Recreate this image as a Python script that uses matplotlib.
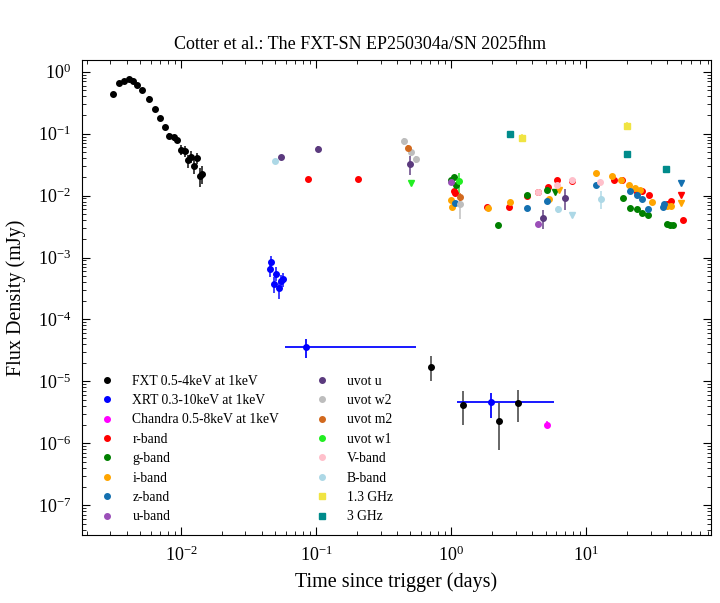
import matplotlib
matplotlib.use('Agg')
import matplotlib.pyplot as plt
from matplotlib.lines import Line2D
import numpy as np

plt.rcParams['font.family'] = ['Liberation Serif', 'DejaVu Serif']
plt.rcParams['mathtext.fontset'] = 'stix'

# ---------------- data (days, mJy) ----------------
fxt_t = [0.00315, 0.00347, 0.00376, 0.0041, 0.00439, 0.00472, 0.00514, 0.00577, 0.00638, 0.00699,
         0.0076, 0.00818, 0.00883, 0.0094, 0.0100, 0.01064, 0.0112, 0.01186, 0.0125, 0.0131, 0.0138, 0.0144]
fxt_f = [0.44, 0.66, 0.70, 0.76, 0.72, 0.62, 0.51, 0.37, 0.25, 0.179,
         0.126, 0.093, 0.087, 0.080, 0.055, 0.0526, 0.037, 0.0426, 0.0305, 0.040, 0.021, 0.0226]
fxt_e = [0.04, 0.05, 0.05, 0.06, 0.06, 0.05, 0.04, 0.03, 0.02, 0.015,
         0.012, 0.01, 0.01, 0.01, 0.01, 0.01, 0.009, 0.009, 0.008, 0.008, 0.007, 0.007]
fxt_late_t = [0.71, 1.23, 2.26, 3.12]
fxt_late_f = [1.7e-5, 4.2e-6, 2.3e-6, 4.4e-6]
fxt_late_lo = [0.7e-5, 2.2e-6, 1.53e-6, 2.2e-6]
fxt_late_hi = [0.86e-5, 2.8e-6, 2.2e-6, 2.8e-6]

xrt_t = [0.0467, 0.0454, 0.0508, 0.0486, 0.053, 0.0548, 0.0573]
xrt_f = [8.4e-4, 6.6e-4, 5.5e-4, 3.8e-4, 3.16e-4, 4.2e-4, 4.5e-4]
xrt_e = [2.3e-4, 1.8e-4, 1.4e-4, 1.1e-4, 1.0e-4, 1.1e-4, 1.1e-4]
xrt_bin_t = [0.0839, 1.98]
xrt_bin_f = [3.6e-5, 4.6e-6]
xrt_bin_e = [1.2e-5, 2.0e-6]
xrt_bin_xlo = [0.025, 0.88]
xrt_bin_xhi = [0.466, 3.84]

chandra_t = [5.17]
chandra_f = [2.0e-6]
chandra_e = [0.25e-6]

r_t = [0.0872, 0.205, 1.05, 1.065, 1.84, 2.67, 3.64, 4.43, 5.23, 6.1, 7.83, 16.2, 18.3, 23.7, 25.9, 29.4, 40.0, 42.4, 52.5]
r_f = [0.0186, 0.0188, 0.012, 0.0112, 0.0066, 0.0066, 0.0098, 0.0113, 0.014, 0.0177, 0.0175, 0.0177, 0.018,
       0.0113, 0.0117, 0.0104, 0.0072, 0.0081, 0.0040]
r_ul_t = [50.2]
r_ul_f = [0.0104]

g_t = [1.0, 1.05, 1.09, 2.24, 3.64, 5.17, 18.6, 21.2, 23.7, 26.1, 28.5, 40.0, 41.4, 43.9]
g_f = [0.0181, 0.020, 0.0149, 0.0034, 0.0101, 0.0124, 0.0092, 0.0063, 0.0061, 0.0053, 0.0049, 0.0035, 0.0033, 0.0033]
g_ul_t = [5.89]
g_ul_f = [0.0116]

i_t = [1.0, 1.02, 1.89, 2.74, 5.3, 11.8, 15.5, 18.1, 20.6, 22.9, 25.2, 30.5, 39.6, 42.6]
i_f = [0.0086, 0.0065, 0.0062, 0.0079, 0.0089, 0.0232, 0.0204, 0.018, 0.0150, 0.0133, 0.0125, 0.0078, 0.0067, 0.0067]
i_ul_t = [6.3, 50.2]
i_ul_f = [0.0124, 0.0076]

z_t = [1.065, 3.64, 5.17, 11.8, 21.1, 23.7, 26.1, 28.5, 37.0, 38.0]
z_f = [0.0076, 0.0064, 0.0083, 0.0151, 0.0117, 0.0104, 0.0089, 0.0061, 0.0065, 0.0073]
z_ul_t = [50.2]
z_ul_f = [0.016]

u_t = [1.0, 4.39]
u_f = [0.0166, 0.0035]

uvu_t = [0.0553, 0.1035, 0.50, 4.75, 7.02]
uvu_f = [0.042, 0.0567, 0.0324, 0.0044, 0.0093]
uvu_e = [0.004, 0.007, 0.011, 0.0015, 0.0035]

w2_t = [0.451, 0.508, 0.553, 1.16]
w2_f = [0.075, 0.050, 0.0385, 0.0074]
w2_e = [0.01, 0.006, 0.005, 0.0032]

m2_t = [0.483, 1.17]
m2_f = [0.0587, 0.0095]
m2_e = [0.007, 0.0015]

w1_t = [1.15]
w1_f = [0.017]
w1_e = [0.006]
w1_ul_t = [0.506]
w1_ul_f = [0.016]

v_t = [4.43, 6.1, 7.83, 12.7]
v_f = [0.0113, 0.0148, 0.018, 0.0168]

b_t = [0.0494, 6.17, 12.8]
b_f = [0.0358, 0.0061, 0.0089]
b_e = [0.002, 0.0008, 0.0028]
b_ul_t = [7.83]
b_ul_f = [0.0048]

r13_t = [3.37, 20.2]
r13_f = [0.086, 0.135]
r13_e = [0.012, 0.02]

r3_t = [2.72, 20.2, 39.1]
r3_f = [0.1, 0.0476, 0.027]
r3_e = [0.005, 0.003, 0.003]

c_fxt = 'black'
c_xrt = 'blue'
c_chandra = 'magenta'
c_r = 'red'
c_g = 'green'
c_i = 'orange'
c_z = '#1470b0'
c_u = '#9b4fb8'
c_uvu = '#5b3a7e'
c_w2 = '#bdbdbd'
c_m2 = '#d2691e'
c_w1 = '#22ee22'
c_v = 'pink'
c_b = 'lightblue'
c_13 = '#f0e442'
c_3 = '#008b8b'

fig = plt.figure(figsize=(7.2, 6.03), dpi=100)
ax = fig.add_axes([0.114, 0.1128, 0.8735, 0.7877])

ms = 4


def pts(t, f, c, yerr=None, xerr=None, marker='o', ebalpha=0.75):
    if yerr is None:
        yerr = [v * 0.06 for v in f]
    eb = ax.errorbar(t, f, yerr=yerr, xerr=xerr, fmt=marker, color=c, ms=ms,
                     elinewidth=1.4, capsize=0, zorder=3)
    for b in eb[2]:
        b.set_alpha(ebalpha)
    return eb


pts(fxt_t, fxt_f, c_fxt, fxt_e)
pts(fxt_late_t, fxt_late_f, c_fxt, [fxt_late_lo, fxt_late_hi], ebalpha=0.6)
pts(xrt_t, xrt_f, c_xrt, xrt_e)
pts(xrt_bin_t, xrt_bin_f, c_xrt, xrt_bin_e, [xrt_bin_xlo, xrt_bin_xhi], ebalpha=0.9)
pts(chandra_t, chandra_f, c_chandra, chandra_e)
pts(r_t, r_f, c_r)
pts(r_ul_t, r_ul_f, c_r, marker='v')
pts(g_t, g_f, c_g)
pts(g_ul_t, g_ul_f, c_g, marker='v')
pts(i_t, i_f, c_i)
pts(i_ul_t, i_ul_f, c_i, marker='v')
pts(z_t, z_f, c_z)
pts(z_ul_t, z_ul_f, c_z, marker='v')
pts(u_t, u_f, c_u)
pts(uvu_t, uvu_f, c_uvu, uvu_e)
pts(w2_t, w2_f, c_w2, w2_e)
pts(m2_t, m2_f, c_m2, m2_e)
pts(w1_t, w1_f, c_w1, w1_e)
pts(w1_ul_t, w1_ul_f, c_w1, marker='v')
pts(v_t, v_f, c_v)
pts(b_t, b_f, c_b, b_e)
pts(b_ul_t, b_ul_f, c_b, marker='v')
pts(r13_t, r13_f, c_13, r13_e, marker='s')
pts(r3_t, r3_f, c_3, r3_e, marker='s')

ax.set_xscale('log')
ax.set_yscale('log')
ax.set_xticks([1e-2, 1e-1, 1e0, 1e1])
ax.set_yticks([1e-7, 1e-6, 1e-5, 1e-4, 1e-3, 1e-2, 1e-1, 1e0])
ax.yaxis.set_minor_locator(matplotlib.ticker.LogLocator(base=10, subs=np.arange(2, 10), numticks=20))
ax.set_xlim(0.00185, 84)
ax.set_ylim(3.3e-8, 1.55)

ax.tick_params(which='both', direction='in', top=True, right=True, labelsize=13, pad=8)
ax.tick_params(which='major', length=6)
ax.tick_params(which='minor', length=3)

ax.set_xlabel('Time since trigger (days)', fontsize=14.5, labelpad=5)
ax.set_ylabel('Flux Density (mJy)', fontsize=14.5, labelpad=8)

labels = ['FXT 0.5-4keV at 1keV', 'XRT 0.3-10keV at 1keV', 'Chandra 0.5-8keV at 1keV', 'r-band',
          'g-band', 'i-band', 'z-band', 'u-band', 'uvot u', 'uvot w2', 'uvot m2', 'uvot w1',
          'V-band', 'B-band', '1.3 GHz', '3 GHz']
colors = [c_fxt, c_xrt, c_chandra, c_r, c_g, c_i, c_z, c_u, c_uvu, c_w2, c_m2, c_w1, c_v, c_b, c_13, c_3]
markers = ['o'] * 14 + ['s', 's']
handles = [Line2D([], [], ls='none', marker=m, color=c, ms=4) for m, c in zip(markers, colors)]
ax.legend(handles, labels, ncol=2, loc='lower left', frameon=False, fontsize=9.8,
          handletextpad=0.85, columnspacing=2.1, labelspacing=0.47, borderaxespad=0.45)

fig.suptitle('Cotter et al.: The FXT-SN EP250304a/SN 2025fhm', fontsize=13, y=0.94)

fig.savefig('out.png', dpi=100)
